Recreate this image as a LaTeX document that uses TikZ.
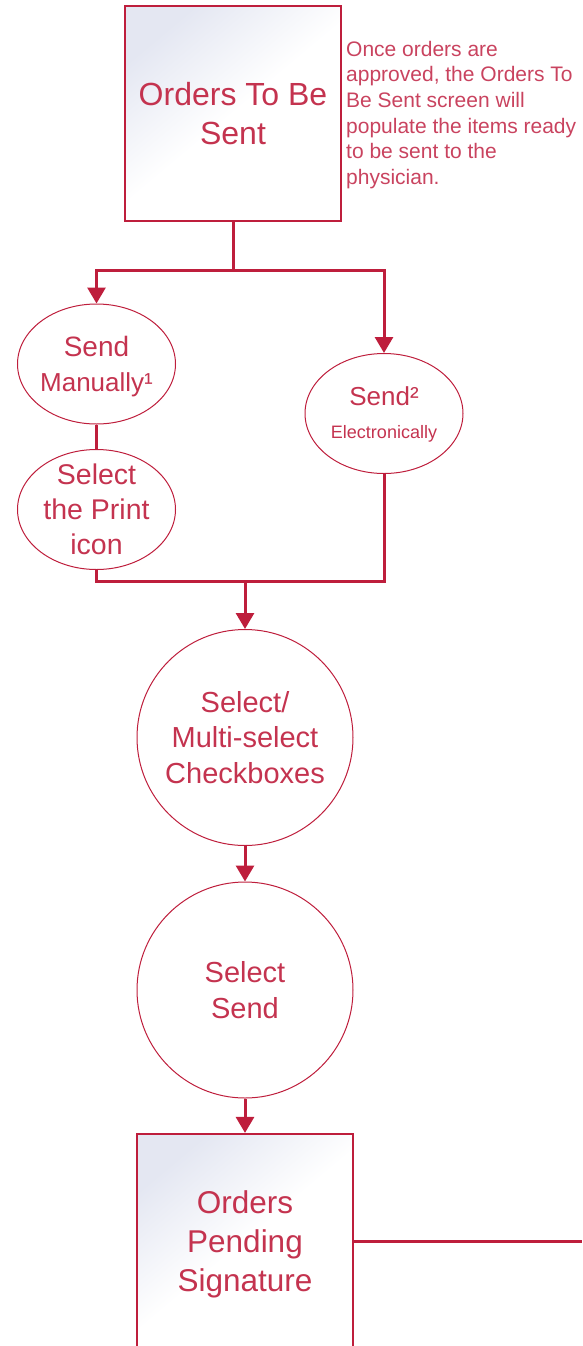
\documentclass[tikz,border=0pt]{standalone}
\usepackage{fontspec}
\setmainfont{Liberation Sans}
\usetikzlibrary{arrows.meta,shapes.geometric}
\definecolor{crim}{HTML}{BE1E3C}
\definecolor{crimtext}{HTML}{C4334F}
\definecolor{notetext}{HTML}{C9435F}
\definecolor{boxtint}{HTML}{E4E7F2}
\begin{document}
\begin{tikzpicture}[x=1pt,y=-1pt,
  screen/.style={draw=crim, line width=2.2pt, rectangle, minimum width=216pt,
    inner sep=0pt, top color=boxtint, bottom color=white, middle color=white,
    shading angle=40, text=crimtext, align=center},
  stepell/.style={draw=crim, line width=1pt, ellipse, minimum width=158pt,
    minimum height=120pt, inner sep=0pt},
  stepcirc/.style={draw=crim, line width=1pt, circle, minimum size=216pt, inner sep=0pt},
  lbl/.style={text=crimtext, align=center, inner sep=0pt},
  link/.style={draw=crim, line width=3pt},
  arr/.style={link, -{Triangle[width=18pt,length=16pt]}}]
\useasboundingbox (0,0) rectangle (582,1346);

% screens
\node[screen, minimum height=215pt, font=\fontsize{32}{39}\selectfont] (tosend) at (233,113.5) {Orders To Be\\Sent};
\node[anchor=north west, inner sep=0pt, align=left, text=notetext,
  font=\fontsize{21}{25.7}\selectfont] (note) at (346,40.7)
  {Once orders are\\approved, the Orders To\\Be Sent screen will\\populate the items ready\\to be sent to the\\physician.};

% sending options
\node[stepell, label={[lbl, font=\fontsize{28}{35}\selectfont, yshift=-2.5pt]center:{Send\\{\fontsize{26}{35}\selectfont Manually¹}}}] (manual) at (96.5,364) {};
\node[stepell, label={[lbl, font=\fontsize{28.5}{35}\selectfont]center:{Select\\the Print\\icon}}] (print) at (96.5,509.5) {};
\node[stepell, label={[lbl, font=\fontsize{26}{33}\selectfont, yshift=-1pt]center:{Send²\\{\fontsize{18}{33}\selectfont Electronically}}}] (elec) at (384,413.5) {};

% common steps
\node[stepcirc, label={[lbl, font=\fontsize{29}{35.5}\selectfont]center:{Select/\\Multi-select\\Checkboxes}}] (pick) at (245,737.5) {};
\node[stepcirc, label={[lbl, font=\fontsize{29}{35.5}\selectfont]center:{Select\\Send}}] (send) at (245,990) {};

\node[screen, minimum height=214pt] (pending) at (245,1241) {};
\node[lbl, font=\fontsize{31.5}{39}\selectfont] (pendingtext) at (245,1244) {Orders\\Pending\\Signature};

% connectors
\coordinate (split) at (233,270);
\coordinate (join) at (245,581);
\coordinate (offpage) at (582,1241);
\draw[link] (tosend.south) -- (split);
\draw[arr] (split) -| (manual.north);
\draw[arr] (split) -| (elec.north);
\draw[link] (manual.south) -- (print.north);
\draw[link] (print.south) |- (join);
\draw[link] (elec.south) |- (join);
\draw[arr] (join) -- (pick.north);
\draw[arr] (pick.south) -- (send.north);
\draw[arr] (send.south) -- (pending.north);
\draw[link] (pending.east) -- (offpage);
\end{tikzpicture}
\end{document}
